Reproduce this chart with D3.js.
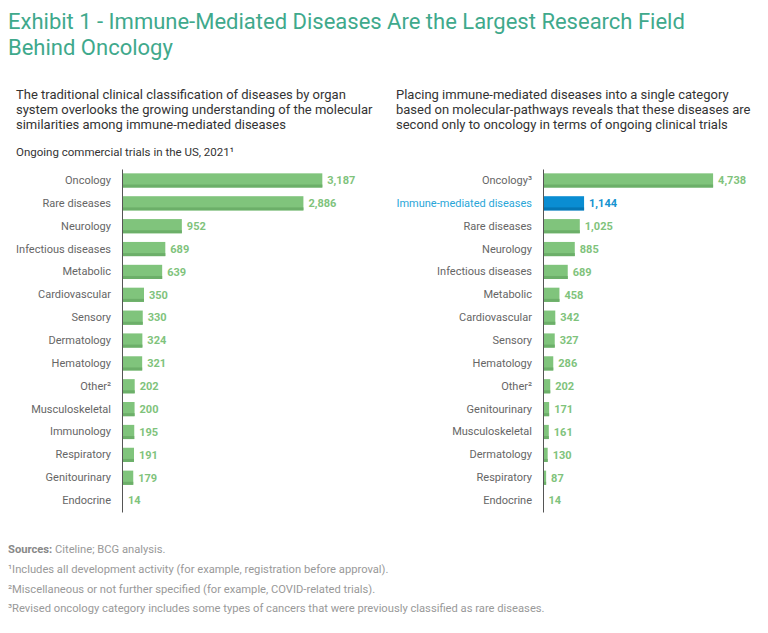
<!doctype html>
<html>
<head>
<meta charset="utf-8" />
<script src="https://d3js.org/d3.v7.min.js"></script>
<style>
  body{ margin:0; background:#fff; }
  svg text{ font-family: Roboto, "Open Sans", sans-serif; }
</style>
</head>
<body>
</body>
<script>
// left chart: traditional classification
var leftCategories = ["Oncology","Rare diseases","Neurology","Infectious diseases","Metabolic","Cardiovascular","Sensory","Dermatology","Hematology","Other²","Musculoskeletal","Immunology","Respiratory","Genitourinary","Endocrine"];
var leftValues = [3187,2886,952,689,639,350,330,324,321,202,200,195,191,179,14];

// right chart: immune-mediated as one category
var rightCategories = ["Oncology³","Immune-mediated diseases","Rare diseases","Neurology","Infectious diseases","Metabolic","Cardiovascular","Sensory","Hematology","Other²","Genitourinary","Musculoskeletal","Dermatology","Respiratory","Endocrine"];
var rightValues = [4738,1144,1025,885,689,458,342,327,286,202,171,161,130,87,14];
var highlight = "Immune-mediated diseases";

var footnotes = [
  "¹Includes all development activity (for example, registration before approval).",
  "²Miscellaneous or not further specified (for example, COVID-related trials).",
  "³Revised oncology category includes some types of cancers that were previously classified as rare diseases."
];

var svg = d3.select("body").append("svg").attr("width", 768).attr("height", 633);

// title
var title = svg.append("g").attr("fill", "#3fa98c").style("font-size", "22px");
title.append("text").attr("x", 8).attr("y", 29).text("Exhibit 1 - Immune-Mediated Diseases Are the Largest Research Field");
title.append("text").attr("x", 8).attr("y", 55).text("Behind Oncology");

function para(x, y, lines){
  var t = svg.append("g").attr("fill", "#333").style("font-size", "13px");
  lines.forEach((l, i) => t.append("text").attr("x", x).attr("y", y + i * 15).text(l));
}
para(16, 99, ["The traditional clinical classification of diseases by organ",
              "system overlooks the growing understanding of the molecular",
              "similarities among immune-mediated diseases"]);
para(396, 99, ["Placing immune-mediated diseases into a single category",
               "based on molecular-pathways reveals that these diseases are",
               "second only to oncology in terms of ongoing clinical trials"]);

svg.append("text").attr("x", 16).attr("y", 156).attr("fill", "#333")
  .style("font-size", "11.5px").text("Ongoing commercial trials in the US, 2021¹");

function barChart(cats, vals, x0, maxVal, width){
  var data = cats.map((c, i) => ({cat: c, val: vals[i]}));
  var y = d3.scaleBand().domain(cats).range([169, 512]).paddingInner(0.38).paddingOuter(0.19);
  var x = d3.scaleLinear().domain([0, maxVal]).range([x0, x0 + width]);
  var g = svg.append("g");

  var bars = g.selectAll("g.bar").data(data).enter().append("g").attr("class", "bar");
  bars.append("rect")
    .attr("x", x(0)).attr("y", d => y(d.cat))
    .attr("width", d => x(d.val) - x(0)).attr("height", y.bandwidth())
    .attr("fill", d => d.cat == highlight ? "#0a8dd2" : "#80c47c");
  bars.append("rect")
    .attr("x", x(0)).attr("y", d => y(d.cat) + y.bandwidth() - 3)
    .attr("width", d => x(d.val) - x(0)).attr("height", 3)
    .attr("fill", d => d.cat == highlight ? "#0576b4" : "#6caf69");
  bars.append("text")
    .attr("x", d => x(d.val) + 5).attr("y", d => y(d.cat) + y.bandwidth() / 2)
    .attr("dy", "0.35em")
    .attr("fill", d => d.cat == highlight ? "#1593d0" : "#7fc37c")
    .style("font-size", "11px").style("font-weight", "bold")
    .text(d => d3.format(",")(d.val));

  var axis = d3.axisLeft(y).tickSize(0).tickPadding(11);
  var ag = g.append("g").attr("transform", `translate(${x0},0)`).call(axis);
  ag.select(".domain").attr("stroke", "#555");
  ag.selectAll("text")
    .style("font-size", "11px")
    .attr("fill", d => d == highlight ? "#29a6d8" : "#666");
}

barChart(leftCategories, leftValues, 122, 3500, 220);
barChart(rightCategories, rightValues, 543, 5000, 179.5);

// footnotes
var fn = svg.append("g").attr("fill", "#999").style("font-size", "11.2px");
var src = fn.append("text").attr("x", 8).attr("y", 553);
src.append("tspan").attr("fill", "#888").style("font-weight", "bold").text("Sources: ");
src.append("tspan").text("Citeline; BCG analysis.");
footnotes.forEach((f, i) => fn.append("text").attr("x", 8).attr("y", 573 + i * 19.7).text(f));
</script>
</html>
